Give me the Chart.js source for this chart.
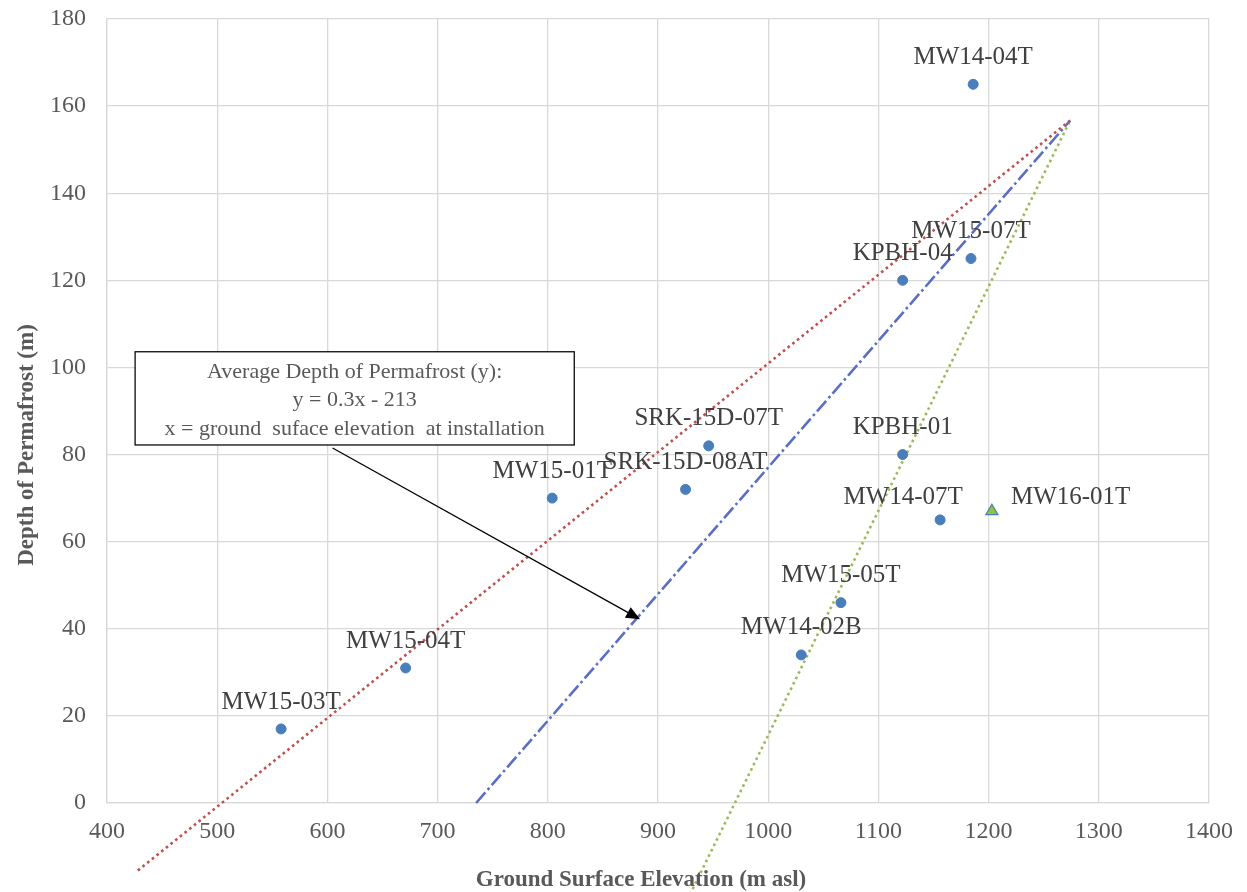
<!DOCTYPE html>
<html>
<head>
<meta charset="utf-8">
<script src="https://cdn.jsdelivr.net/npm/chart.js@4.4.0/dist/chart.umd.min.js"></script>
<style>
  html, body { margin: 0; padding: 0; background: #fff; }
  #wrap { width: 1247px; height: 892px; position: relative; }
</style>
</head>
<body>
<div id="wrap"><canvas id="chart"></canvas></div>
<script>
// wells (elevation m asl, depth of permafrost m)
const wellNames = ['MW15-03T', 'MW15-04T', 'MW15-01T', 'SRK-15D-08AT', 'SRK-15D-07T', 'MW14-02B',
  'MW15-05T', 'KPBH-01', 'KPBH-04', 'MW14-07T', 'MW15-07T', 'MW14-04T'];
const elevations = [558, 671, 804, 925, 946, 1030, 1066, 1122, 1122, 1156, 1184, 1186];
const depths = [17, 31, 70, 72, 82, 34, 46, 80, 120, 65, 125, 165];

const newWellNames = ['MW16-01T'];
const newWellElevations = [1203];
const newWellDepths = [67];

// envelope lines
const upperLineX = [428, 1274];
const upperLineY = [-15.5, 156.7];
const averageLineX = [735, 1274];
const averageLineY = [0, 156.7];
const lowerLineX = [929, 1274];
const lowerLineY = [-21, 156.7];

const xTicks = [400, 500, 600, 700, 800, 900, 1000, 1100, 1200, 1300, 1400];
const yTicks = [0, 20, 40, 60, 80, 100, 120, 140, 160, 180];

const noteLines = ['Average Depth of Permafrost (y):', 'y = 0.3x - 213', 'x = ground  suface elevation  at installation'];

const serif = '"Liberation Serif", "Times New Roman", serif';

function pts(xs, ys)
{
  return xs.map((x, i) => ({x: x, y: ys[i]}));
}

// label offsets (px) where Excel moved them
const labelShift = {
  'MW14-07T': {dx: -37, dy: -22, align: 'center'},
  'MW16-01T': {dx: 19, dy: -14, align: 'left'}
};

const overlay = {
  id: 'overlay',
  afterDatasetsDraw(chart)
  {
    const ctx = chart.ctx;
    const sx = chart.scales.x;
    const sy = chart.scales.y;
    ctx.save();
    // point labels
    ctx.font = '25px ' + serif;
    ctx.fillStyle = '#404040';
    ctx.textBaseline = 'middle';
    const names = wellNames.concat(newWellNames);
    const xs = elevations.concat(newWellElevations);
    const ys = depths.concat(newWellDepths);
    for (let i = 0; i < names.length; i++)
    {
      const sh = labelShift[names[i]] || {dx: 0, dy: -27, align: 'center'};
      ctx.textAlign = sh.align;
      ctx.fillText(names[i], sx.getPixelForValue(xs[i]) + sh.dx, sy.getPixelForValue(ys[i]) + sh.dy);
    }
    // note box
    const bx0 = sx.getPixelForValue(425.5), bx1 = sx.getPixelForValue(824);
    const by0 = sy.getPixelForValue(103.6), by1 = sy.getPixelForValue(82.2);
    ctx.fillStyle = '#ffffff';
    ctx.fillRect(bx0, by0, bx1 - bx0, by1 - by0);
    ctx.strokeStyle = '#000000';
    ctx.lineWidth = 1.25;
    ctx.strokeRect(bx0, by0, bx1 - bx0, by1 - by0);
    ctx.fillStyle = '#595959';
    ctx.font = '22px ' + serif;
    ctx.textAlign = 'center';
    const cx = (bx0 + bx1) / 2;
    for (let i = 0; i < noteLines.length; i++)
    {
      ctx.fillText(noteLines[i], cx, by0 + 20 + i * 28.5);
    }
    // arrow
    const ax0 = sx.getPixelForValue(604.7), ay0 = sy.getPixelForValue(81.5);
    const ax1 = sx.getPixelForValue(883.7), ay1 = sy.getPixelForValue(42.2);
    const ang = Math.atan2(ay1 - ay0, ax1 - ax0);
    ctx.strokeStyle = '#000000';
    ctx.lineWidth = 1.25;
    ctx.beginPath();
    ctx.moveTo(ax0, ay0);
    ctx.lineTo(ax1 - 12 * Math.cos(ang), ay1 - 12 * Math.sin(ang));
    ctx.stroke();
    ctx.fillStyle = '#000000';
    ctx.beginPath();
    ctx.moveTo(ax1, ay1);
    ctx.lineTo(ax1 - 14 * Math.cos(ang) + 6 * Math.sin(ang), ay1 - 14 * Math.sin(ang) - 6 * Math.cos(ang));
    ctx.lineTo(ax1 - 14 * Math.cos(ang) - 6 * Math.sin(ang), ay1 - 14 * Math.sin(ang) + 6 * Math.cos(ang));
    ctx.closePath();
    ctx.fill();
    // axis titles
    ctx.fillStyle = '#595959';
    ctx.font = 'bold 23px ' + serif;
    ctx.textAlign = 'center';
    ctx.fillText('Ground Surface Elevation (m asl)', 641, 880);
    ctx.translate(27, 445);
    ctx.rotate(-Math.PI / 2);
    ctx.fillText('Depth of Permafrost (m)', 0, 0);
    ctx.restore();
  }
};

const grid = {color: '#d9d9d9', lineWidth: 1.3, drawTicks: false};

new Chart(document.getElementById('chart'), {
  type: 'scatter',
  data: {
    datasets: [
      {
        label: 'Wells',
        data: pts(elevations, depths),
        pointStyle: 'circle',
        pointRadius: 5,
        backgroundColor: '#4a7ebb',
        borderColor: '#4a7ebb',
        borderWidth: 1
      },
      {
        label: 'New well',
        data: pts(newWellElevations, newWellDepths),
        pointStyle: 'triangle',
        pointRadius: 7,
        backgroundColor: '#8dc63f',
        borderColor: '#4a7ebb',
        borderWidth: 1.2
      },
      {
        label: 'Upper',
        data: pts(upperLineX, upperLineY),
        showLine: true,
        pointRadius: 0,
        borderColor: '#c0504d',
        borderWidth: 2.6,
        borderDash: [2.6, 3.4],
        clip: false
      },
      {
        label: 'Average',
        data: pts(averageLineX, averageLineY),
        showLine: true,
        pointRadius: 0,
        borderColor: '#5a6fc4',
        borderWidth: 2.6,
        borderDash: [14, 3.5, 2.6, 3.5],
        clip: false
      },
      {
        label: 'Lower',
        data: pts(lowerLineX, lowerLineY),
        showLine: true,
        pointRadius: 0,
        borderColor: '#9bbb59',
        borderWidth: 2.6,
        borderDash: [2.6, 3.4],
        clip: false
      }
    ]
  },
  options: {
    responsive: true,
    maintainAspectRatio: false,
    animation: false,
    layout: {padding: {top: 19, right: 26, left: 0, bottom: 0}},
    plugins: {legend: {display: false}, tooltip: {enabled: false}},
    scales: {
      x: {
        type: 'linear',
        min: 400,
        max: 1400,
        afterBuildTicks: (s) => { s.ticks = xTicks.map(v => ({value: v})); },
        afterFit: (s) => { s.height = 89; },
        grid: grid,
        border: {color: '#d9d9d9', width: 1.3},
        ticks: {color: '#595959', font: {family: serif, size: 24}, padding: 14, maxRotation: 0,
          callback: (v) => String(v)}
      },
      y: {
        type: 'linear',
        min: 0,
        max: 180,
        afterBuildTicks: (s) => { s.ticks = yTicks.map(v => ({value: v})); },
        afterFit: (s) => { s.width = 107; s.paddingTop = 14; s.paddingBottom = 14; },
        grid: grid,
        border: {color: '#d9d9d9', width: 1.3},
        ticks: {color: '#595959', font: {family: serif, size: 24}, padding: 21,
          callback: (v) => String(v)}
      }
    }
  },
  plugins: [overlay]
});
</script>
</body>
</html>
